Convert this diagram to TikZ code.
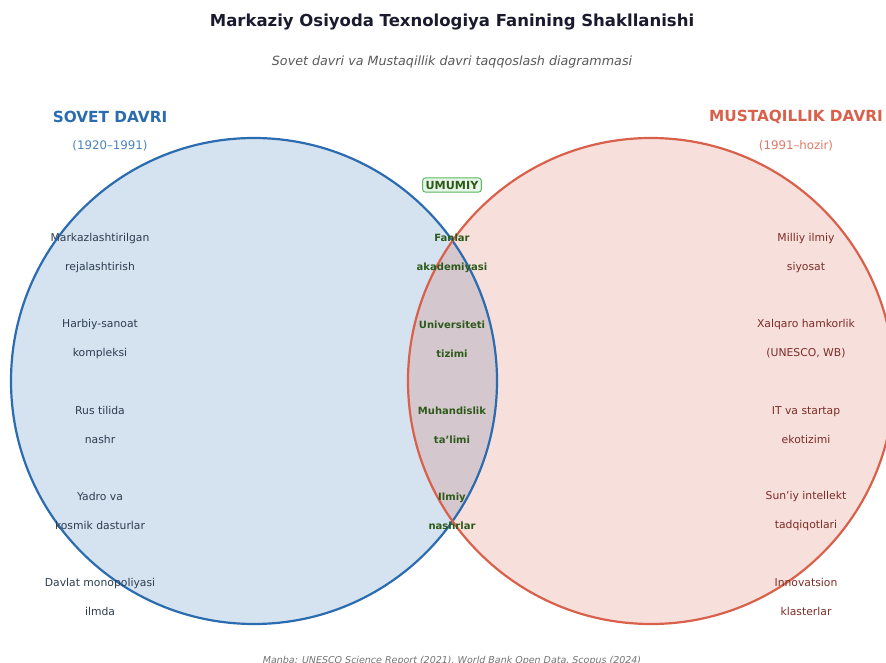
\documentclass[tikz,border=0pt]{standalone}
\usepackage{fontspec}
\setmainfont{DejaVu Sans}
\definecolor{sovetblue}{HTML}{2B6CB0}
\definecolor{mustred}{HTML}{D9604A}
\definecolor{sovettext}{HTML}{2C3E50}
\definecolor{musttext}{HTML}{7B2D26}
\definecolor{umumtext}{HTML}{2D5A1B}
\definecolor{umumedge}{HTML}{5CB85C}
\definecolor{umumfill}{HTML}{E8F5E9}
\definecolor{titlecol}{HTML}{1A1A2E}

\begin{document}
\begin{tikzpicture}[x=1pt,y=-1pt]
\tikzstyle{every node}=[inner sep=1pt, align=center]
\tikzstyle{davr}=[circle, minimum size=486pt, fill opacity=0.2]
\tikzstyle{davrchiziq}=[circle, minimum size=486pt, line width=2.2pt]
\tikzstyle{sovetitem}=[text=sovettext, font=\fontsize{10.8}{29}\selectfont]
\tikzstyle{mustitem}=[text=musttext, font=\fontsize{10.8}{29}\selectfont]
\tikzstyle{umumitem}=[text=umumtext, font=\bfseries\fontsize{10}{29}\selectfont]
\useasboundingbox (0,0) rectangle (886,663);
% sarlavha
\node[text=titlecol, font=\bfseries\fontsize{16.5}{19}\selectfont] (sarlavha) at (452,22) {Markaziy Osiyoda Texnologiya Fanining Shakllanishi};
\node[text=black!65, font=\itshape\fontsize{12.7}{15}\selectfont] (izoh) at (452,62) {Sovet davri va Mustaqillik davri taqqoslash diagrammasi};
% doiralar
\node[davr, fill=sovetblue] (sovet) at (254,381) {};
\node[davr, fill=mustred] (mustaqil) at (651,381) {};
\node[davrchiziq, draw=sovetblue] (sovetchiziq) at (sovet.center) {};
\node[davrchiziq, draw=mustred] (mustchiziq) at (mustaqil.center) {};
% davr nomlari
\node[text=sovetblue, font=\bfseries\fontsize{15.3}{18}\selectfont] (sovetnom) at (110,117) {SOVET DAVRI};
\node[text=sovetblue!85, font=\fontsize{11.8}{14}\selectfont] (sovetyil) at (110,146) {(1920--1991)};
\node[text=mustred, font=\bfseries\fontsize{15.3}{18}\selectfont] (mustnom) at (796,117) {MUSTAQILLIK DAVRI};
\node[text=mustred!85, font=\fontsize{11.8}{14}\selectfont] (mustyil) at (796,146) {(1991--hozir)};
\node[draw=umumedge, fill=umumfill, rounded corners=3pt, line width=1pt, inner sep=3pt, text=umumtext, font=\bfseries\fontsize{11.2}{13}\selectfont] (umumiy) at (452,185) {UMUMIY};
% sovet davri
\node[sovetitem] (s1) at (100,253) {Markazlashtirilgan\\rejalashtirish};
\node[sovetitem] (s2) at (100,339) {Harbiy-sanoat\\kompleksi};
\node[sovetitem] (s3) at (100,425) {Rus tilida\\nashr};
\node[sovetitem] (s4) at (100,511) {Yadro va\\kosmik dasturlar};
\node[sovetitem] (s5) at (100,597) {Davlat monopoliyasi\\ilmda};
% umumiy
\node[umumitem] (u1) at (452,253) {Fanlar\\akademiyasi};
\node[umumitem] (u2) at (452,339) {Universiteti\\tizimi};
\node[umumitem] (u3) at (452,425) {Muhandislik\\ta'limi};
\node[umumitem] (u4) at (452,511) {Ilmiy\\nashrlar};
% mustaqillik davri
\node[mustitem] (m1) at (806,253) {Milliy ilmiy\\siyosat};
\node[mustitem] (m2) at (806,339) {Xalqaro hamkorlik\\(UNESCO, WB)};
\node[mustitem] (m3) at (806,425) {IT va startap\\ekotizimi};
\node[mustitem] (m4) at (806,511) {Sun'iy intellekt\\tadqiqotlari};
\node[mustitem] (m5) at (806,597) {Innovatsion\\klasterlar};
% manba
\node[text=black!55, font=\itshape\fontsize{9.5}{11}\selectfont] (manba) at (452,661) {Manba: UNESCO Science Report (2021), World Bank Open Data, Scopus (2024)};
\end{tikzpicture}
\end{document}
